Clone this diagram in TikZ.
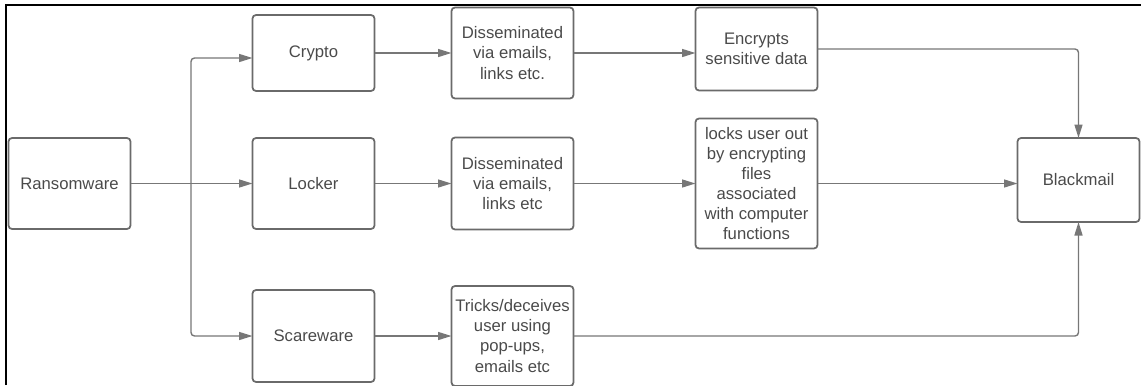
\documentclass[tikz,border=0pt]{standalone}
\usepackage{fontspec}
\setmainfont{Liberation Sans}
\usepackage{xcolor}
\usetikzlibrary{arrows.meta,positioning}
\definecolor{edge}{HTML}{6A6A6A}
\definecolor{ink}{HTML}{4A4A4A}
\definecolor{wire}{HTML}{777777}

\begin{document}
\begin{tikzpicture}[
  box/.style={draw=edge,line width=1pt,rounded corners=2pt,align=center,inner sep=2pt,outer sep=0pt,
    text=ink,minimum width=2.44cm,font=\fontsize{9.5}{11.4}\selectfont},
  line/.style={draw=wire,line width=0.8pt,rounded corners=2pt},
  arr/.style={line,-{Triangle[length=2.7mm,width=1.6mm]}}]
\useasboundingbox (0,0) rectangle (22.82,-7.7);
\draw[line width=1.3pt] (0.12,-7.7) |- (22.82,-0.1);
% first column and the three kinds
\node[box,minimum height=1.82cm] (ransom) at (1.39,-3.67) {Ransomware};
\node[box,right=2.44cm of ransom,minimum height=1.82cm] (locker) {Locker};
\node[box,above=0.94cm of locker,minimum height=1.52cm] (crypto) {Crypto};
\node[box,below=1.22cm of locker,minimum height=1.84cm] (scare) {Scareware};
% how they spread
\node[box,right=1.54cm of crypto,minimum height=1.82cm] (diss1) {Disseminated\\via emails,\\links etc.};
\node[box,right=1.54cm of locker,minimum height=1.84cm] (diss2) {Disseminated\\via emails,\\links etc};
\node[box,right=1.54cm of scare,minimum height=2cm] (tricks) {Tricks/deceives\\user using\\pop-ups,\\emails etc};
% what they do
\node[box,right=2.44cm of diss1,yshift=0.08cm,minimum height=1.66cm] (encrypts) {Encrypts\\sensitive data};
\node[box,right=2.44cm of diss2,minimum height=2.6cm] (locks) {locks user out\\by encrypting\\files\\associated\\with computer\\functions};
\node[box,right=4cm of locks,yshift=0.07cm,minimum height=1.68cm] (blackmail) {Blackmail};
\coordinate[right=1.21cm of ransom.east] (split);
\draw[line] (ransom) -- (split);
\draw[arr] (split) |- ([yshift=-0.1cm]crypto.west);
\draw[arr] (split) -- (locker);
\draw[arr] (split) |- (scare);
\draw[arr] (crypto) -- (diss1);
\draw[arr] (locker) -- (diss2);
\draw[arr] (scare) -- (tricks);
\draw[arr] (diss1.east) -- (diss1.east -| encrypts.west);
\draw[arr] (diss2) -- (locks);
\draw[arr] (locks.east) -- (locks.east -| blackmail.west);
\draw[arr] (encrypts.east) -| (blackmail.north);
\draw[arr] (tricks.east) -| (blackmail.south);
\end{tikzpicture}
\end{document}
